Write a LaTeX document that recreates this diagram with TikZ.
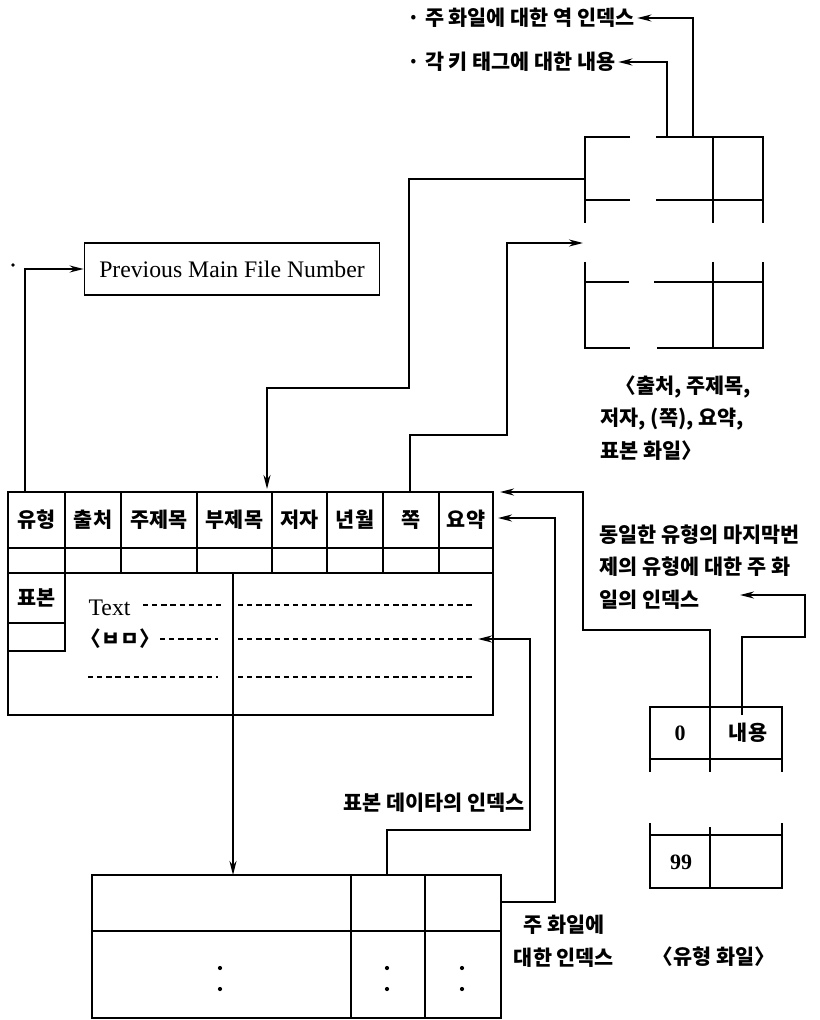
\documentclass[tikz,border=0pt]{standalone}
\usepackage{fontspec}
\setmainfont{Liberation Serif}
\newfontfamily\kr{Noto Sans CJK KR}
\usetikzlibrary{arrows.meta}

\begin{document}
\begin{tikzpicture}[x=0.02cm,y=-0.02cm,line width=1pt,
  pfeil/.style={-{Stealth[length=8pt,width=4pt]}},
  hl/.style={font=\kr\bfseries\fontsize{11.8}{18.5}\selectfont,inner sep=1pt},
  lt/.style={font=\fontsize{13.5}{15}\selectfont,inner sep=1pt},
  gestr/.style={dash pattern=on 3pt off 2.2pt,line width=0.7pt}]

\useasboundingbox (0,0) rectangle (820,1020);

% Indexdatei oben rechts
\draw (630,137) -- (585,137) -- (585,223);
\draw (656,137) -- (763,137) -- (763,223);
\draw (713,137) -- (713,223);
\draw (585,200) -- (630,200);
\draw (656,200) -- (763,200);

\draw (585,262) -- (585,348) -- (630,348);
\draw (657,348) -- (763,348) -- (763,262);
\draw (713,262) -- (713,348);
\draw (585,282) -- (629,282);
\draw (654,282) -- (763,282);

\node[hl,anchor=west] (rueck) at (405,18) {· 주 화일에 대한 역 인덱스};
\node[hl,anchor=west] (inhalt) at (405,62) {· 각 키 태그에 대한 내용};

\coordinate (idxA) at (693,137);
\coordinate (idxB) at (667,137);
\draw[pfeil] (idxA) |- (rueck.east);
\draw[pfeil] (idxB) |- (inhalt.east);

\node[hl,align=left,anchor=north west] (idxcap) at (598,373)
  {\hspace{0.3cm}〈출처, 주제목,\\저자, (쪽), 요약,\\표본 화일〉};

% Previous Main File Number
\node[draw,lt,minimum width=5.9cm,minimum height=1.04cm] (prev) at (232,269)
  {Previous Main File Number};
\fill (13,265) circle [radius=1pt];

% Hauptdatei
\draw (8,492) rectangle (493,573);
\draw (8,548) -- (493,548);
\foreach \x in {65,121,197,272,327,383,439}
  \draw (\x,492) -- (\x,573);
\foreach \x/\t [count=\i] in {36.5/유형,93/출처,159/주제목,234.5/부제목,
    299.5/저자,355/년월,411/쪽,466/요약}
  \node[hl] (kopf\i) at (\x,520) {\t};

\draw (8,573) -- (8,715) -- (493,715) -- (493,573);
\draw (65,573) -- (65,651) -- (8,651);
\draw (8,623) -- (65,623);
\node[hl] (probe) at (36.5,598) {표본};

\node[lt,anchor=west] (txt) at (86,608) {Text};
\node[hl,anchor=west] (bm) at (78,639) {〈ㅂㅁ〉};

\draw[gestr] (143,605) -- (222,605);
\draw[gestr] (238,605) -- (472,605);
\draw[gestr] (160,639) -- (218,639);
\draw[gestr] (238,639) -- (472,639);
\draw[gestr] (88,677) -- (218,677);
\draw[gestr] (238,677) -- (472,677);

% Probendatei unten
\draw (92,875) rectangle (501,1018);
\draw (92,931) -- (501,931);
\draw (351,875) -- (351,1018);
\draw (425,875) -- (425,1018);
\foreach \x in {220,387,462} {
  \fill (\x,968) circle [radius=1.2pt];
  \fill (\x,989) circle [radius=1.2pt];
}

% Typdatei
\draw (650,772) -- (650,707) -- (782,707) -- (782,772);
\draw (650,759) -- (782,759);
\draw (710,707) -- (710,772);
\node[lt,font=\bfseries\fontsize{12.5}{14}\selectfont] (null) at (680,733) {0};
\node[hl] (inh) at (748,733) {내용};

\draw (650,823) -- (650,888) -- (782,888) -- (782,823);
\draw (650,835) -- (782,835);
\draw (710,827) -- (710,888);
\node[lt,font=\bfseries\fontsize{12.5}{14}\selectfont] (neun) at (681,862) {99};

\node[hl] (typcap) at (714,957) {〈유형 화일〉};
\node[hl,align=left,anchor=north west] (typtext) at (597,522)
  {동일한 유형의 마지막번\\제의 유형에 대한 주 화\\일의 인덱스};

\node[hl,anchor=east] (probidx) at (527,803) {표본 데이타의 인덱스};
\node[hl,align=center] (hauptidx) at (564,941) {주 화일에\\대한 인덱스};

% Verbindungen
\coordinate (typ) at (25,492);
\coordinate (seite) at (410,492);
\coordinate (idxL) at (585,179);
\coordinate (idxE) at (583,243);
\coordinate (mitte) at (233,573);
\coordinate (probe0) at (233,875);
\coordinate (probe1) at (387,875);
\coordinate (probe2) at (501,902);
\coordinate (bmE) at (478,639);
\coordinate (kopfE) at (498,518);
\coordinate (kopfT) at (500,492);
\coordinate (typ0) at (710,707);
\coordinate (typ1) at (742,715);
\coordinate (typtE) at (740,595);

\draw[pfeil] (typ) |- (prev.west);
\draw[pfeil] (idxL) -| (409,388) -| (267,489);
\draw[pfeil] (seite) |- (507,435) |- (idxE);
\draw[pfeil] (mitte) -- (probe0);
\draw[pfeil] (probe1) |- (530,830) |- (bmE);
\draw[pfeil] (probe2) -| (555,560) |- (kopfE);
\draw[pfeil] (typ0) |- (583,630) |- (kopfT);
\draw[pfeil] (typ1) |- (805,637) |- (typtE);
\end{tikzpicture}
\end{document}
